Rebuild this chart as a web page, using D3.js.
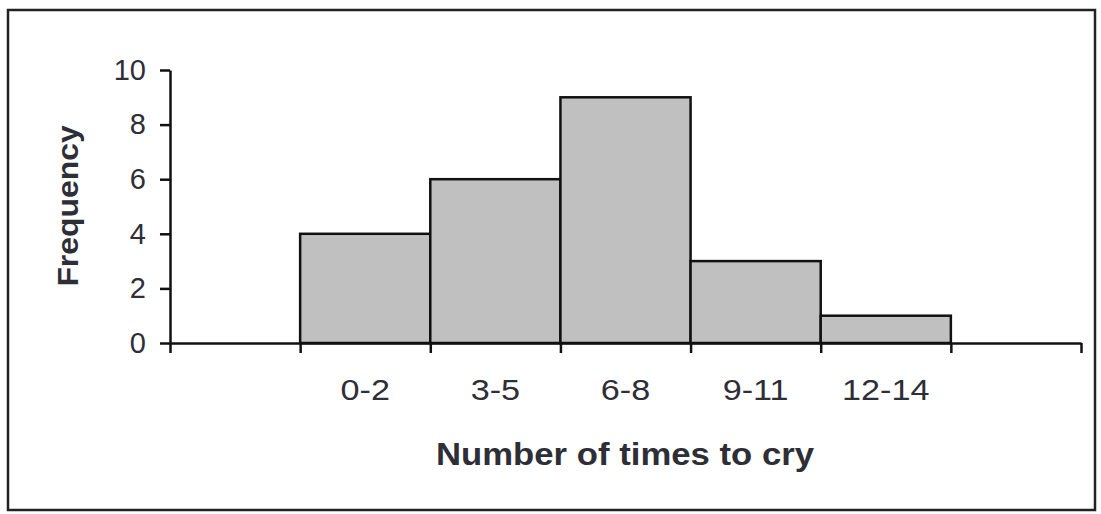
<!DOCTYPE html>
<html>
<head>
<meta charset="utf-8">
<script src="https://cdn.jsdelivr.net/npm/d3@7"></script>
<style>
  body { margin: 0; background: #fff; }
  text { font-family: "Liberation Sans", Arial, sans-serif; fill: #2e2e36; }
</style>
</head>
<body>
<div class="histChart"></div>
<script>
const WIDTH = 1101;
const HEIGHT = 514;

var categories = ["0-2", "3-5", "6-8", "9-11", "12-14"];
var frequencies = [4, 6, 9, 3, 1];
var yTicks = [0, 2, 4, 6, 8, 10];

// one empty slot on each side of the bins, like the original
var slots = ["_lead"].concat(categories, ["_trail"]);

var x = d3.scaleBand().domain(slots).range([170, 1081]).padding(0);
var edges = d3.scaleLinear().domain([0, slots.length]).range([170, 1081]);
var y = d3.scaleLinear().domain([0, 10]).range([343, 70]);

var svg = d3.select('.histChart').append('svg')
    .attr('width', WIDTH)
    .attr('height', HEIGHT);

svg.append('rect')
    .attr('x', 8).attr('y', 10)
    .attr('width', 1087).attr('height', 500)
    .attr('fill', 'none')
    .attr('stroke', '#222')
    .attr('stroke-width', 2.5);

function drawBars() {
    var data = categories.map(function (c, i) {
        return {cat: c, value: frequencies[i]};
    });
    svg.append('g').selectAll('rect')
        .data(data)
        .enter().append('rect')
        .attr('x', function (d) { return x(d.cat); })
        .attr('y', function (d) { return y(d.value); })
        .attr('width', x.bandwidth())
        .attr('height', function (d) { return y(0) - y(d.value); })
        .attr('fill', '#c0c0c0')
        .attr('stroke', '#111')
        .attr('stroke-width', 2.5);
}

function drawAxis() {
    var yAxis = d3.axisLeft(y).tickValues(yTicks).tickSize(10).tickPadding(14).tickSizeOuter(0);
    var yg = svg.append('g').attr('transform', 'translate(170,0)').call(yAxis);
    yg.selectAll('text').style('font-size', '29px');

    // tick marks on the bin edges
    var edgeAxis = d3.axisBottom(edges).tickValues(d3.range(slots.length + 1))
        .tickSize(10).tickSizeOuter(0).tickFormat('');
    svg.append('g').attr('transform', 'translate(0,343)').call(edgeAxis);

    // labels in the middle of each bin
    var labelAxis = d3.axisBottom(x).tickSize(0).tickPadding(36)
        .tickFormat(function (d) { return d.charAt(0) === '_' ? '' : d; });
    var lg = svg.append('g').attr('transform', 'translate(0,343)').call(labelAxis);
    lg.select('.domain').remove();
    lg.selectAll('text').style('font-size', '30px').attr('transform', 'scale(1.14,1)');

    svg.selectAll('.domain, .tick line').attr('stroke', '#111').attr('stroke-width', 2.5);
}

function drawTitles() {
    svg.append('text')
        .attr('transform', 'translate(625,465) scale(1.12,1)')
        .attr('text-anchor', 'middle')
        .style('font-size', '31px')
        .style('font-weight', 'bold')
        .text('Number of times to cry');

    svg.append('text')
        .attr('transform', 'translate(78,206) rotate(-90) scale(1.1,1)')
        .attr('text-anchor', 'middle')
        .style('font-size', '29px')
        .style('font-weight', 'bold')
        .text('Frequency');
}

drawBars();
drawAxis();
drawTitles();
</script>
</body>
</html>
